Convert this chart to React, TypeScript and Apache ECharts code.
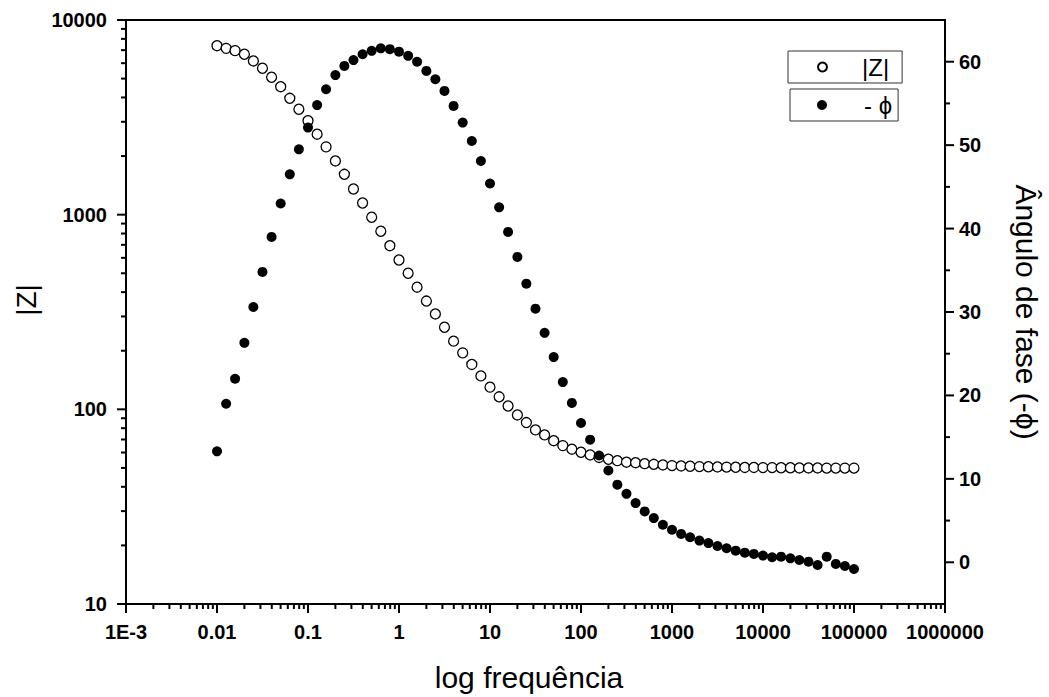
import React, { useEffect, useRef } from "react";
import * as echarts from "echarts";

// ---- data ----
const frequencies = [
  0.01, 0.0126, 0.0158, 0.02, 0.0251, 0.0316, 0.0398, 0.0501, 0.0631, 0.0794,
  0.1, 0.126, 0.158, 0.2, 0.251, 0.316, 0.398, 0.501, 0.631, 0.794,
  1, 1.26, 1.58, 2, 2.51, 3.16, 3.98, 5.01, 6.31, 7.94,
  10, 12.6, 15.8, 20, 25.1, 31.6, 39.8, 50.1, 63.1, 79.4,
  100, 126, 158, 200, 251, 316, 398, 501, 631, 794,
  1000, 1260, 1580, 2000, 2510, 3160, 3980, 5010, 6310, 7940,
  10000, 12600, 15800, 20000, 25100, 31600, 39800, 50100, 63100, 79400,
  100000,
];

const impedance = [
  7380, 7150, 6960, 6670, 6160, 5650, 5080, 4545, 3960, 3480,
  3040, 2590, 2230, 1888, 1612, 1355, 1148, 970, 822, 693,
  585, 500, 424, 360, 309, 264, 224, 195, 170, 148.5,
  130, 116, 104, 93.6, 85.5, 78.4, 73.9, 69.0, 65.1, 62.4,
  60.2, 58.3, 56.6, 55.4, 54.5, 53.5, 53.2, 52.6, 52.2, 51.8,
  51.4, 51.2, 51.0, 50.8, 50.7, 50.6, 50.5, 50.4, 50.3, 50.3,
  50.2, 50.2, 50.1, 50.1, 50.0, 50.0, 50.0, 49.9, 49.9, 49.9,
  49.9,
];

const phase = [
  13.3, 19.0, 22.0, 26.3, 30.6, 34.8, 39.0, 43.0, 46.5, 49.5,
  52.1, 54.8, 56.7, 58.4, 59.5, 60.2, 60.9, 61.3, 61.6, 61.5,
  61.2, 60.7, 60.0, 58.9, 57.9, 56.5, 54.7, 52.7, 50.5, 48.1,
  45.4, 42.55, 39.6, 36.6, 33.4, 30.4, 27.5, 24.6, 21.6, 19.1,
  16.7, 14.7, 12.8, 11.0, 9.3, 8.2, 7.1, 6.1, 5.3, 4.5,
  3.9, 3.4, 3.0, 2.6, 2.3, 1.95, 1.68, 1.39, 1.15, 1.0,
  0.8, 0.6, 0.67, 0.47, 0.27, 0.07, -0.33, 0.67, -0.2, -0.45,
  -0.8,
];

const seriesNames = ["|Z|", "- ϕ"];

const xMajorTicks = [0.001, 0.01, 0.1, 1, 10, 100, 1000, 10000, 100000, 1000000];
const xTickLabels = ["1E-3", "0.01", "0.1", "1", "10", "100", "1000", "10000", "100000", "1000000"];
const yLeftMajorTicks = [10, 100, 1000, 10000];
const yLeftTickLabels = ["10", "100", "1000", "10000"];
const yRightMajorTicks = [0, 10, 20, 30, 40, 50, 60];
const yRightMinorTicks = [5, 15, 25, 35, 45, 55];
const minorMantissas = [2, 3, 4, 5, 6, 7, 8, 9];

const FONT = 'Arial, "Liberation Sans", sans-serif';

export default function App() {
  const ref = useRef<HTMLDivElement>(null);

  useEffect(() => {
    document.body.style.margin = "0";
    if (!ref.current) return;
    const chart = echarts.init(ref.current, undefined, { renderer: "svg" });

    const xMinor = xMajorTicks.slice(0, -1).flatMap((d) => minorMantissas.map((m) => m * d));
    const yMinor = yLeftMajorTicks.slice(0, -1).flatMap((d) => minorMantissas.map((m) => m * d));

    const xTickData = [
      ...xMajorTicks.map((v) => [v, 100, 1]),
      ...xMinor.map((v) => [v, 100, 0]),
    ];
    const yLeftTickData = [
      ...yLeftMajorTicks.map((v) => [1, v, 1]),
      ...yMinor.map((v) => [1, v, 0]),
    ];
    const yRightTickData = [
      ...yRightMajorTicks.map((v) => [1, v, 1]),
      ...yRightMinorTicks.map((v) => [1, v, 0]),
    ];

    const tickStyle = { stroke: "#000", lineWidth: 2 };
    const makeTicks = (kind: "x" | "yl" | "yr", data: number[][]) => ({
      type: "custom",
      xAxisIndex: 0,
      yAxisIndex: kind === "yr" ? 1 : 0,
      silent: true,
      clip: false,
      z: 5,
      encode: { x: 0, y: 1 },
      data,
      renderItem: (params: any, api: any) => {
        const cs = params.coordSys;
        const major = api.value(2) === 1;
        const len = major ? 9 : 5;
        if (kind === "x") {
          const x = api.coord([api.value(0), 100])[0];
          const y0 = cs.y + cs.height;
          return { type: "line", shape: { x1: x, y1: y0, x2: x, y2: y0 + len }, style: tickStyle };
        }
        const y = api.coord([1, api.value(1)])[1];
        if (kind === "yl") {
          const x0 = cs.x;
          return { type: "line", shape: { x1: x0 - len, y1: y, x2: x0, y2: y }, style: tickStyle };
        }
        const x1 = cs.x + cs.width;
        return { type: "line", shape: { x1: x1, y1: y, x2: x1 + len, y2: y }, style: tickStyle };
      },
    });

    const axisLine = { show: true, onZero: false, lineStyle: { color: "#000", width: 2 } };
    const tickLabel = { color: "#000", fontSize: 20, fontWeight: "bold", fontFamily: FONT };

    chart.setOption({
      animation: false,
      backgroundColor: "#fff",
      grid: {
        left: 126,
        right: 99,
        top: 20,
        bottom: 93,
        show: true,
        borderColor: "#000",
        borderWidth: 2,
        backgroundColor: "transparent",
      },
      legend: [
        {
          data: [{ name: seriesNames[0], icon: "circle" }],
          left: 788,
          top: 51,
          itemWidth: 9,
          itemHeight: 9,
          padding: [4, 13, 4, 29],
          borderColor: "#333",
          borderWidth: 1,
          selectedMode: false,
          textStyle: { fontSize: 24, color: "#000", fontFamily: FONT, padding: [0, 0, 0, 30] },
        },
        {
          data: [{ name: seriesNames[1], icon: "circle" }],
          left: 790,
          top: 89,
          itemWidth: 10,
          itemHeight: 10,
          padding: [4, 6, 4, 27],
          borderColor: "#333",
          borderWidth: 1,
          selectedMode: false,
          textStyle: { fontSize: 24, color: "#000", fontFamily: FONT, padding: [0, 0, 0, 32] },
        },
      ],
      xAxis: {
        type: "log",
        logBase: 10,
        min: 0.001,
        max: 1000000,
        splitNumber: 9,
        axisLine,
        axisTick: { show: false },
        splitLine: { show: false },
        axisLabel: {
          ...tickLabel,
          margin: 18,
          formatter: (v: number) => xTickLabels[Math.round(Math.log10(v)) + 3] ?? "",
        },
        name: "log frequência",
        nameLocation: "middle",
        nameGap: 58,
        nameTextStyle: { fontSize: 30, color: "#000", fontFamily: FONT, padding: [0, 13, 0, 0] },
      },
      yAxis: [
        {
          type: "log",
          logBase: 10,
          min: 10,
          max: 10000,
          splitNumber: 3,
          position: "left",
          axisLine,
          axisTick: { show: false },
          splitLine: { show: false },
          axisLabel: {
            ...tickLabel,
            margin: 19,
            formatter: (v: number) => yLeftTickLabels[Math.round(Math.log10(v)) - 1] ?? "",
          },
          name: "|Z|",
          nameLocation: "middle",
          nameRotate: 90,
          nameGap: 86,
          nameTextStyle: { fontSize: 28, color: "#000", fontFamily: FONT, padding: [0, 0, 0, 24] },
        },
        {
          type: "value",
          min: -5,
          max: 65,
          position: "right",
          axisLine,
          axisTick: { show: false },
          splitLine: { show: false },
          axisLabel: {
            ...tickLabel,
            margin: 14,
            formatter: (v: number) => (yRightMajorTicks.includes(v) ? String(v) : ""),
          },
          name: "Ângulo de fase (-ϕ)",
          nameLocation: "middle",
          nameRotate: -90,
          nameGap: 66,
          nameTextStyle: { fontSize: 30, color: "#000", fontFamily: FONT },
        },
      ],
      series: [
        makeTicks("x", xTickData),
        makeTicks("yl", yLeftTickData),
        makeTicks("yr", yRightTickData),
        {
          name: seriesNames[0],
          type: "scatter",
          xAxisIndex: 0,
          yAxisIndex: 0,
          symbol: "circle",
          symbolSize: 10,
          itemStyle: { color: "#fff", borderColor: "#000", borderWidth: 1.3, opacity: 1 },
          data: frequencies.map((f, i) => [f, impedance[i]]),
          z: 3,
        },
        {
          name: seriesNames[1],
          type: "scatter",
          xAxisIndex: 0,
          yAxisIndex: 1,
          symbol: "circle",
          symbolSize: 10,
          itemStyle: { color: "#000", opacity: 1 },
          data: frequencies.map((f, i) => [f, phase[i]]),
          z: 4,
        },
      ],
    });

    return () => chart.dispose();
  }, []);

  return <div ref={ref} style={{ width: 1049, height: 697 }} />;
}
